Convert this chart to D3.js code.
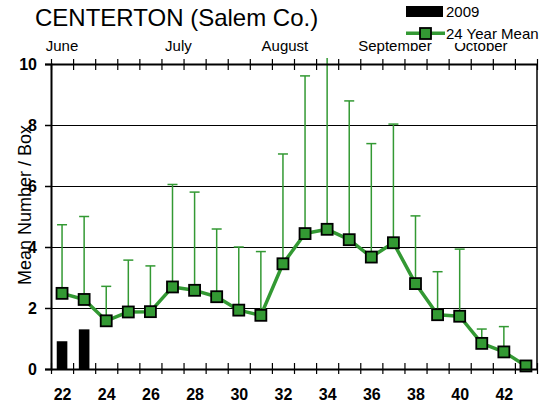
<!DOCTYPE html>
<html>
<head>
<meta charset="utf-8">
<script src="https://cdn.jsdelivr.net/npm/d3@7"></script>
<style>
  body { margin: 0; background: #fff; }
  text { font-family: "Liberation Sans", Arial, sans-serif; }
</style>
</head>
<body>
<div id="chart"></div>
<script>
// weeks and values
const weeks = [22, 23, 24, 25, 26, 27, 28, 29, 30, 31, 32, 33, 34, 35, 36, 37, 38, 39, 40, 41, 42, 43];
const meanValues = [2.48, 2.28, 1.58, 1.87, 1.88, 2.69, 2.58, 2.37, 1.93, 1.76, 3.45, 4.44, 4.58, 4.24, 3.67, 4.14, 2.80, 1.78, 1.73, 0.84, 0.56, 0.10];
const errorTops = [4.73, 5.0, 2.71, 3.57, 3.38, 6.05, 5.8, 4.59, 4.0, 3.85, 7.05, 9.61, 10.2, 8.79, 7.39, 8.03, 5.02, 3.19, 3.93, 1.31, 1.39, null];
const weeks2009 = [22, 23];
const values2009 = [0.91, 1.30];
const monthNames = ["June", "July", "August", "September", "October"];
const monthWeeks = [22.0, 27.27, 32.09, 37.07, 40.96];
const yTicks = [0, 2, 4, 6, 8, 10];
const xLabelWeeks = [22, 24, 26, 28, 30, 32, 34, 36, 38, 40, 42];

const W = 546, H = 420;
const plotLeft = 51, plotRight = 537, plotTop = 64, plotBottom = 369;
const green = "#339933";

const svg = d3.select("#chart").append("svg")
  .attr("width", W).attr("height", H);

const x = d3.scaleLinear().domain([21.5, 43.5]).range([plotLeft, plotRight]);
const y = d3.scaleLinear().domain([0, 10]).range([plotBottom, plotTop]);
const bandW = x(1) - x(0);

// gridlines
svg.append("g")
  .selectAll("line")
  .data(yTicks.filter(d => d > 0 && d < 10))
  .enter().append("line")
  .attr("x1", plotLeft).attr("x2", plotRight)
  .attr("y1", d => y(d) + 0.5).attr("y2", d => y(d) + 0.5)
  .attr("stroke", "#000").attr("stroke-width", 1);

// right border
svg.append("line")
  .attr("x1", plotRight).attr("x2", plotRight)
  .attr("y1", plotTop).attr("y2", plotBottom)
  .attr("stroke", "#000").attr("stroke-width", 1.5);

// 2009 bars
const bars = weeks2009.map((w, i) => ({ w, v: values2009[i] }));
svg.selectAll(".bar")
  .data(bars)
  .enter().append("rect")
  .attr("class", "bar")
  .attr("x", d => x(d.w) - bandW * 0.24)
  .attr("width", bandW * 0.48)
  .attr("y", d => y(d.v))
  .attr("height", d => y(0) - y(d.v))
  .attr("fill", "#000");

// error bars (upward only)
const pts = weeks.map((w, i) => ({ w, m: meanValues[i], e: errorTops[i] }));
svg.append("clipPath").attr("id", "clip")
  .append("rect").attr("x", 0).attr("y", 58).attr("width", W).attr("height", H);

const err = svg.append("g").attr("clip-path", "url(#clip)")
  .selectAll("g")
  .data(pts.filter(d => d.e != null))
  .enter().append("g");
err.append("line")
  .attr("x1", d => x(d.w)).attr("x2", d => x(d.w))
  .attr("y1", d => y(d.m)).attr("y2", d => y(d.e))
  .attr("stroke", green).attr("stroke-width", 1.5);
err.filter(d => d.e <= 10).append("line")
  .attr("x1", d => x(d.w) - 5).attr("x2", d => x(d.w) + 5)
  .attr("y1", d => y(d.e)).attr("y2", d => y(d.e))
  .attr("stroke", green).attr("stroke-width", 1.5);

// mean line
svg.append("path")
  .datum(pts)
  .attr("d", d3.line().x(d => x(d.w)).y(d => y(d.m)))
  .attr("fill", "none")
  .attr("stroke", green)
  .attr("stroke-width", 3.5)
  .attr("stroke-linejoin", "round");

svg.selectAll(".pt")
  .data(pts)
  .enter().append("rect")
  .attr("class", "pt")
  .attr("x", d => x(d.w) - 5.5).attr("y", d => y(d.m) - 5.5)
  .attr("width", 11).attr("height", 11)
  .attr("fill", green).attr("stroke", "#000").attr("stroke-width", 1.8);

// axes
const boundaries = d3.range(21.5, 44, 1);

const bottomAxis = svg.append("g")
  .attr("transform", `translate(0,${plotBottom})`)
  .call(d3.axisBottom(x).tickValues(boundaries).tickFormat("").tickSizeOuter(0).tickSizeInner(5));
bottomAxis.select(".domain").attr("stroke-width", 2);
bottomAxis.selectAll(".tick line").attr("y1", -6).attr("stroke-width", 1.2);

svg.append("g")
  .attr("transform", `translate(0,${plotBottom + 17})`)
  .call(d3.axisBottom(x).tickValues(xLabelWeeks).tickSize(0).tickFormat(d => d))
  .call(g => g.select(".domain").remove())
  .selectAll("text")
  .attr("font-family", "Liberation Sans, Arial, sans-serif")
  .attr("font-size", 16).attr("font-weight", "bold").attr("fill", "#000");

const topAxis = svg.append("g")
  .attr("transform", `translate(0,${plotTop})`)
  .call(d3.axisTop(x).tickValues(boundaries).tickFormat("").tickSizeOuter(0).tickSizeInner(5));
topAxis.select(".domain").attr("stroke-width", 2);
topAxis.selectAll(".tick line").attr("y1", 6).attr("stroke-width", 1.2);

const leftAxis = svg.append("g")
  .attr("transform", `translate(${plotLeft},0)`)
  .call(d3.axisLeft(y).tickValues(yTicks).tickSizeOuter(0).tickSize(6).tickPadding(8));
leftAxis.select(".domain").attr("stroke-width", 2);
leftAxis.selectAll(".tick line").attr("stroke-width", 1.5);
leftAxis.selectAll("text")
  .attr("font-family", "Liberation Sans, Arial, sans-serif")
  .attr("font-size", 16).attr("font-weight", "bold").attr("fill", "#000");

// month labels
svg.selectAll(".month")
  .data(monthNames)
  .enter().append("text")
  .attr("class", "month")
  .attr("x", (d, i) => x(monthWeeks[i]))
  .attr("y", 51)
  .attr("text-anchor", "middle")
  .attr("font-size", 15)
  .text(d => d);

// title
svg.append("text")
  .attr("x", 35).attr("y", 26)
  .attr("font-size", 24)
  .text("CENTERTON (Salem Co.)");

// y label
svg.append("text")
  .attr("transform", "translate(31,205) rotate(-90)")
  .attr("text-anchor", "middle")
  .attr("font-size", 18)
  .text("Mean Number / Box");

// legend (covers part of the month labels)
const legend = svg.append("g");
legend.append("rect")
  .attr("x", 405).attr("y", 0).attr("width", W - 405).attr("height", 43)
  .attr("fill", "#fff");
legend.append("rect")
  .attr("x", 406).attr("y", 6).attr("width", 37).attr("height", 11)
  .attr("fill", "#000");
legend.append("text")
  .attr("x", 446).attr("y", 17).attr("font-size", 15).text("2009");
legend.append("line")
  .attr("x1", 406).attr("x2", 445).attr("y1", 33.3).attr("y2", 33.3)
  .attr("stroke", green).attr("stroke-width", 3.5);
legend.append("rect")
  .attr("x", 420).attr("y", 28).attr("width", 11).attr("height", 11)
  .attr("fill", green).attr("stroke", "#000").attr("stroke-width", 1.8);
legend.append("text")
  .attr("x", 446).attr("y", 38.5).attr("font-size", 15).text("24 Year Mean");
</script>
</body>
</html>
